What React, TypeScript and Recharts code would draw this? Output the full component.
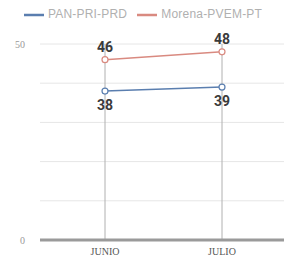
import { LineChart, Line, XAxis, YAxis, CartesianGrid, Legend, LabelList } from "recharts";

const months = ["JUNIO", "JULIO"];
const panPriPrd = [38, 39];
const morenaPvemPt = [46, 48];
const yTicks = [0, 10, 20, 30, 40, 50];
const seriesOrder = ["pan", "morena"];

const data = months.map((m, i) => ({
  month: m,
  pan: panPriPrd[i],
  morena: morenaPvemPt[i],
}));

export default function App() {
  return (
    <div style={{ position: "fixed", left: 0, top: 0, background: "#fff" }}>
      <LineChart width={294} height={262} data={data} margin={{ top: 24, right: 10, bottom: 0, left: 0 }}>
        <CartesianGrid vertical={false} stroke="#e6e6e6" />
        <CartesianGrid horizontal={false} syncWithTicks stroke="#b0b0b0" />
        <XAxis
          dataKey="month"
          height={22}
          padding={{ left: 65, right: 62 }}
          axisLine={{ stroke: "#9a9a9a", strokeWidth: 3 }}
          tickLine={false}
          tickMargin={2}
          tick={{ fill: "#555", fontSize: 10, fontFamily: "Liberation Serif" }}
        />
        <YAxis
          width={40}
          domain={[0, 50]}
          ticks={yTicks}
          axisLine={false}
          tickLine={false}
          tickMargin={9}
          tickFormatter={(v: number) => (v === 0 || v === 50 ? String(v) : "")}
          tick={{ fill: "#999", fontSize: 10, fontFamily: "Liberation Serif" }}
        />
        <Legend
          verticalAlign="top"
          iconType="plainline"
          iconSize={20}
          itemSorter={(item: any) => seriesOrder.indexOf(item.dataKey)}
          wrapperStyle={{ top: 5, left: 6, fontSize: 12, fontFamily: "Liberation Sans", color: "#aaa", letterSpacing: 0.2 }}
          formatter={(value: string) => <span style={{ color: "#b0b0b0" }}>{value}</span>}
        />
        <Line
          type="linear"
          dataKey="pan"
          name="PAN-PRI-PRD"
          stroke="#5a7eaf"
          strokeWidth={1.5}
          dot={{ r: 3, fill: "#fff", strokeWidth: 1.2 }}
          isAnimationActive={false}
        >
          <LabelList dataKey="pan" position="bottom" offset={9} fill="#3a3a3a" fontSize={14} fontWeight="bold" fontFamily="Roboto" />
        </Line>
        <Line
          type="linear"
          dataKey="morena"
          name="Morena-PVEM-PT"
          stroke="#d98a80"
          strokeWidth={1.5}
          dot={{ r: 3, fill: "#fff", strokeWidth: 1.2 }}
          isAnimationActive={false}
        >
          <LabelList dataKey="morena" position="top" offset={8} fill="#3a3a3a" fontSize={14} fontWeight="bold" fontFamily="Roboto" />
        </Line>
      </LineChart>
    </div>
  );
}
